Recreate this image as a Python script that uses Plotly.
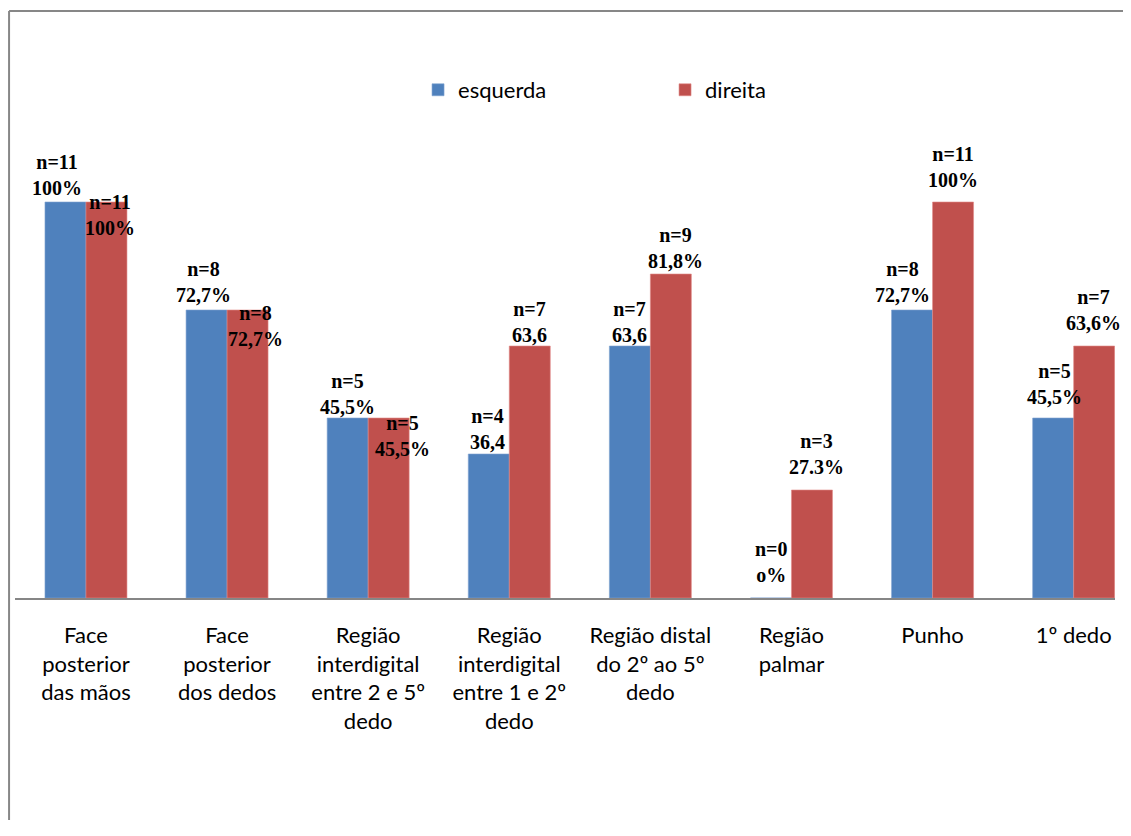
import plotly.graph_objects as go

# data
categories = [
    "Face<br>posterior<br>das mãos",
    "Face<br>posterior<br>dos dedos",
    "Região<br>interdigital<br>entre 2 e 5º<br>dedo",
    "Região<br>interdigital<br>entre 1 e 2º<br>dedo",
    "Região distal<br>do 2º ao 5º<br>dedo",
    "Região<br>palmar",
    "Punho",
    "1º dedo",
]
esquerda = [11, 8, 5, 4, 7, 0, 8, 5]
direita = [11, 8, 5, 7, 9, 3, 11, 7]
esquerda_labels = ["n=11<br>100%", "n=8<br>72,7%", "n=5<br>45,5%", "n=4<br>36,4",
                   "n=7<br>63,6", "n=0<br>o%", "n=8<br>72,7%", "n=5<br>45,5%"]
direita_labels = ["n=11<br>100%", "n=8<br>72,7%", "n=5<br>45,5%", "n=7<br>63,6",
                  "n=9<br>81,8%", "n=3<br>27.3%", "n=11<br>100%", "n=7<br>63,6%"]

# label offsets in px from the bar top (excel put them a bit all over the place)
esq_dx = [-8, -3, 0, -1, 0, 1, -10, 1]
esq_dy = [27, 28, 24, 25, 24, 36, 28, 34]
dir_dx = [4, 8, 14, 0, 5, 5, 0, -1]
dir_dy = [-13, -16, -18, 24, 26, 36, 35, 36]

BLUE = "#4F81BD"
RED = "#C0504D"
idx = list(range(len(categories)))

fig = go.Figure()
fig.add_trace(go.Bar(x=idx, y=esquerda, name="esquerda", marker_color=BLUE,
                     marker_line=dict(color="#7fa3d0", width=0.6)))
fig.add_trace(go.Bar(x=idx, y=direita, name="direita", marker_color=RED,
                     marker_line=dict(color="#e08a88", width=0.6)))

half = 20.5
for i in idx:
    fig.add_annotation(x=i, y=esquerda[i], xref="x", yref="y", text=esquerda_labels[i],
                       showarrow=False, xshift=-half + esq_dx[i], yshift=esq_dy[i],
                       yanchor="middle",
                       font=dict(family="Liberation Serif", size=20, color="black", weight="bold"))
    fig.add_annotation(x=i, y=direita[i], xref="x", yref="y", text=direita_labels[i],
                       showarrow=False, xshift=half + dir_dx[i], yshift=dir_dy[i],
                       yanchor="middle",
                       font=dict(family="Liberation Serif", size=20, color="black", weight="bold"))

# chart frame (left and top edges visible)
fig.add_shape(type="line", xref="paper", yref="paper", x0=-0.0054, x1=1.02, y0=1.3588, y1=1.3588,
              line=dict(color="#878787", width=2))
fig.add_shape(type="line", xref="paper", yref="paper", x0=-0.0054, x1=-0.0054, y0=1.3588, y1=-0.56,
              line=dict(color="#878787", width=2))

fig.update_layout(
    width=1115, height=812,
    margin=dict(l=7, r=8, t=158, b=222),
    paper_bgcolor="white", plot_bgcolor="white",
    barmode="group", bargap=0.419, bargroupgap=0,
    font=dict(family="Lato", size=22, color="black"),
    legend=dict(orientation="h", x=0.3664, y=1.176, xanchor="left", yanchor="middle",
                entrywidth=202, entrywidthmode="pixels", bgcolor="rgba(0,0,0,0)",
                borderwidth=0, font=dict(family="Lato", size=22), itemclick=False),
    showlegend=True,
)
fig.update_xaxes(range=[-0.503, 7.293], tickmode="array", tickvals=idx, ticktext=categories,
                 showline=True, linecolor="#868686", linewidth=1.5, ticks="", mirror=False,
                 showgrid=False, zeroline=False, ticklabelstandoff=17,
                 tickfont=dict(family="Lato", size=22))
fig.update_yaxes(range=[0, 12], visible=False, showline=False, showgrid=False, zeroline=False)

fig.write_html("out.html", config={"displayModeBar": False})
